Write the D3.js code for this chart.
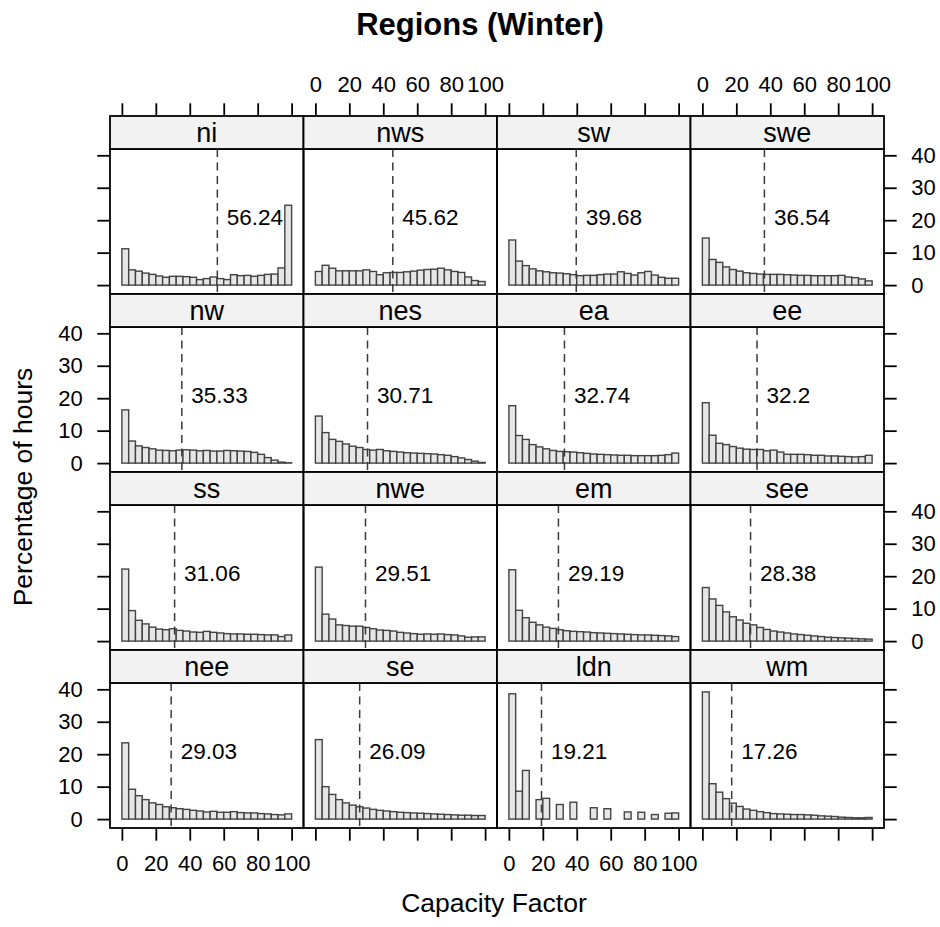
<!DOCTYPE html>
<html><head><meta charset="utf-8">
<script src="https://cdn.jsdelivr.net/npm/d3@7"></script>
<style>
body{margin:0;background:#fff}
svg{display:block}
text{font-family:"Liberation Sans",Arial,Helvetica,sans-serif;fill:#000}
</style>
</head><body>
<svg id="chart" width="940" height="927"></svg>
<script>
// ---------------- data ----------------
const regions = ["ni","nws","sw","swe","nw","nes","ea","ee","ss","nwe","em","see","nee","se","ldn","wm"];
const means = [56.24,45.62,39.68,36.54,35.33,30.71,32.74,32.2,31.06,29.51,29.19,28.38,29.03,26.09,19.21,17.26];
const binStarts = [0,4,8,12,16,20,24,28,32,36,40,44,48,52,56,60,64,68,72,76,80,84,88,92,96];
const binWidth = 4;
const ni  = [11.2,4.7,4.3,3.7,3.3,2.8,2.4,2.7,2.7,2.6,2.4,1.7,2.0,2.5,2.0,1.7,3.2,2.9,3.0,2.7,3.0,3.3,3.4,5.3,24.6];
const nws = [4.2,6.1,5.2,4.4,4.4,4.4,4.4,4.7,4.2,3.2,3.8,3.9,3.9,4.1,4.3,4.6,4.8,4.9,5.2,4.7,4.2,3.9,2.5,1.4,1.1];
const sw  = [13.9,7.4,6.0,5.0,4.4,4.1,3.8,3.7,3.5,3.2,2.9,3.0,3.0,3.2,3.4,3.4,4.1,3.6,3.1,3.8,4.2,3.1,2.4,2.1,2.1];
const swe = [14.5,7.9,7.0,5.6,4.8,4.3,3.8,3.6,3.4,3.3,3.3,3.3,3.2,3.1,3.0,3.0,2.9,2.9,2.9,2.9,3.0,2.5,2.3,1.9,1.3];
const nw  = [16.4,6.8,5.3,4.8,4.4,4.0,3.9,3.8,4.0,4.1,4.0,3.8,3.9,3.7,3.7,3.9,3.8,3.7,3.6,3.3,2.7,1.7,0.9,0.3,0.1];
const nes = [14.5,9.4,7.3,6.7,5.9,5.2,4.8,4.2,4.0,4.2,3.8,3.6,3.4,3.2,3.1,3.0,2.9,2.8,2.6,2.4,2.0,1.6,1.1,0.6,0.2];
const ea  = [17.7,8.5,7.3,5.7,5.0,4.4,3.9,3.6,3.5,3.4,3.2,3.0,2.8,2.7,2.6,2.5,2.4,2.4,2.3,2.3,2.3,2.3,2.4,2.6,3.1];
const ee  = [18.6,8.6,6.1,5.7,5.1,4.6,4.3,4.2,4.2,3.8,4.0,3.4,2.7,2.7,2.7,2.6,2.4,2.4,2.2,2.2,2.1,2.0,1.9,2.0,2.4];
const ss  = [22.2,9.4,6.4,5.3,4.3,3.7,3.5,3.8,3.3,3.1,2.8,2.7,3.0,2.7,2.5,2.3,2.2,2.2,2.1,2.1,2.0,1.9,1.9,1.4,1.9];
const nwe = [22.8,8.3,6.8,5.0,4.8,4.6,4.6,4.2,3.8,3.4,3.3,3.1,2.7,2.5,2.3,2.1,2.2,2.1,2.2,2.0,1.9,1.6,1.2,1.3,1.3];
const em  = [22.0,9.5,7.2,5.8,5.0,4.3,3.9,3.5,3.2,3.0,2.9,2.8,2.6,2.5,2.4,2.3,2.2,2.1,2.0,1.9,1.9,1.8,1.7,1.6,1.4];
const see = [16.5,13.0,11.0,9.0,7.5,6.5,5.5,5.0,4.2,3.6,3.1,2.8,2.5,2.2,2.0,1.8,1.6,1.4,1.2,1.1,1.0,0.9,0.8,0.7,0.6];
const nee = [23.5,9.2,7.2,6.0,5.0,4.5,3.8,3.5,3.2,3.0,2.7,2.5,2.2,2.4,2.1,2.1,2.3,2.0,1.9,1.9,1.7,1.6,1.4,1.3,1.6];
const se  = [24.5,10.0,7.6,6.0,5.0,4.3,3.8,3.4,3.0,2.7,2.5,2.3,2.1,2.0,1.9,1.8,1.7,1.6,1.5,1.4,1.3,1.2,1.2,1.1,1.1];
const ldn = [38.6,8.6,15.0,0,6.0,6.4,0,4.5,0,5.2,0,0,3.5,0,3.2,0,0,2.2,0,2.1,0,1.4,0,1.8,1.9];
const wm  = [39.2,10.9,8.3,6.3,4.9,3.9,3.1,2.7,2.3,2.0,1.7,1.6,1.5,1.4,1.4,1.3,1.2,1.0,0.9,0.8,0.6,0.5,0.4,0.4,0.5];
const panelBins = [ni,nws,sw,swe,nw,nes,ea,ee,ss,nwe,em,see,nee,se,ldn,wm];
const xTicks = [0,20,40,60,80,100];
const yTicks = [0,10,20,30,40];
const mainTitle = "Regions (Winter)";
const xLabel = "Capacity Factor";
const yLabel = "Percentage of hours";
const meanLabelY = 20;

// ---------------- layout ----------------
const svg = d3.select("#chart");
const L = 110, T = 116, panelW = 193.5, stripH = 33, panelH = 145, rowH = 178, nCol = 4, nRow = 4;
const tickLen = 12.7, lineW = 1.8;
const tickFont = "22px";

const x = d3.scaleLinear().domain([-7, 107]).range([0, panelW]);
const yMax = d3.max(panelBins.flat());
const y = d3.scaleLinear().domain([-0.07 * yMax, 1.07 * yMax]).range([panelH, 0]);

// title
svg.append("text").attr("x", 480).attr("y", 35).attr("text-anchor", "middle")
  .style("font-size", "31px").style("font-weight", "bold").text(mainTitle);
// x label
svg.append("text").attr("x", 494).attr("y", 912).attr("text-anchor", "middle")
  .style("font-size", "26.5px").text(xLabel);
// y label
svg.append("text").attr("transform", "translate(32,487) rotate(-90)").attr("text-anchor", "middle")
  .style("font-size", "26.5px").text(yLabel);

function styleAxis(g, fs) {
  g.select(".domain").remove();
  g.selectAll(".tick line").attr("stroke", "#000").attr("stroke-width", lineW);
  g.selectAll(".tick text").style("font-size", fs).attr("font-family", null);
}

regions.forEach((name, i) => {
  const col = i % nCol, row = Math.floor(i / nCol);
  const px = L + col * panelW;
  const sy = T + row * rowH;
  const py = sy + stripH;
  const g = svg.append("g").attr("transform", `translate(${px},${py})`);

  // strip
  svg.append("rect").attr("x", px).attr("y", sy).attr("width", panelW).attr("height", stripH)
    .attr("fill", "#f2f2f2").attr("stroke", "#000").attr("stroke-width", lineW);
  svg.append("text").attr("x", px + panelW / 2).attr("y", sy + 25.8).attr("text-anchor", "middle")
    .style("font-size", "27px").text(name);

  // bars
  g.selectAll("rect.bar").data(panelBins[i]).join("rect").attr("class", "bar")
    .attr("x", (d, j) => x(binStarts[j]))
    .attr("width", (d, j) => x(binStarts[j] + binWidth) - x(binStarts[j]))
    .attr("y", d => y(d))
    .attr("height", d => y(0) - y(d))
    .attr("fill", "#e6e6e6").attr("stroke", "#434343").attr("stroke-width", 1.4);

  // mean line
  g.append("line").attr("x1", x(means[i])).attr("x2", x(means[i]))
    .attr("y1", 0).attr("y2", panelH)
    .attr("stroke", "#3a3a3a").attr("stroke-width", 1.5).attr("stroke-dasharray", "8,5.5");
  g.append("text").attr("x", x(means[i]) + 9.5).attr("y", y(meanLabelY) - 2.3)
    .attr("dominant-baseline", "central")
    .style("font-size", "22.5px").text(String(means[i]));

  // panel border
  g.append("rect").attr("x", 0).attr("y", 0).attr("width", panelW).attr("height", panelH)
    .attr("fill", "none").attr("stroke", "#000").attr("stroke-width", lineW);

  // axes
  if (row === 0) {
    const showLab = col % 2 === 1;
    const ax = svg.append("g").attr("transform", `translate(${px},${sy})`)
      .call(d3.axisTop(x).tickValues(xTicks).tickSize(tickLen).tickPadding(11.6)
        .tickFormat(showLab ? d3.format("d") : () => ""));
    styleAxis(ax, tickFont);
  }
  if (row === nRow - 1) {
    const showLab = col % 2 === 0;
    const ax = svg.append("g").attr("transform", `translate(${px},${py + panelH})`)
      .call(d3.axisBottom(x).tickValues(xTicks).tickSize(tickLen).tickPadding(14.2)
        .tickFormat(showLab ? d3.format("d") : () => ""));
    styleAxis(ax, tickFont);
  }
  if (col === 0) {
    const showLab = row % 2 === 1;
    const ax = svg.append("g").attr("transform", `translate(${px},${py})`)
      .call(d3.axisLeft(y).tickValues(yTicks).tickSize(tickLen).tickPadding(14.6)
        .tickFormat(showLab ? d3.format("d") : () => ""));
    styleAxis(ax, tickFont);
  }
  if (col === nCol - 1) {
    const showLab = row % 2 === 0;
    const ax = svg.append("g").attr("transform", `translate(${px + panelW},${py})`)
      .call(d3.axisRight(y).tickValues(yTicks).tickSize(tickLen).tickPadding(14.6)
        .tickFormat(showLab ? d3.format("d") : () => ""));
    styleAxis(ax, tickFont);
  }
});
</script>
</body></html>
